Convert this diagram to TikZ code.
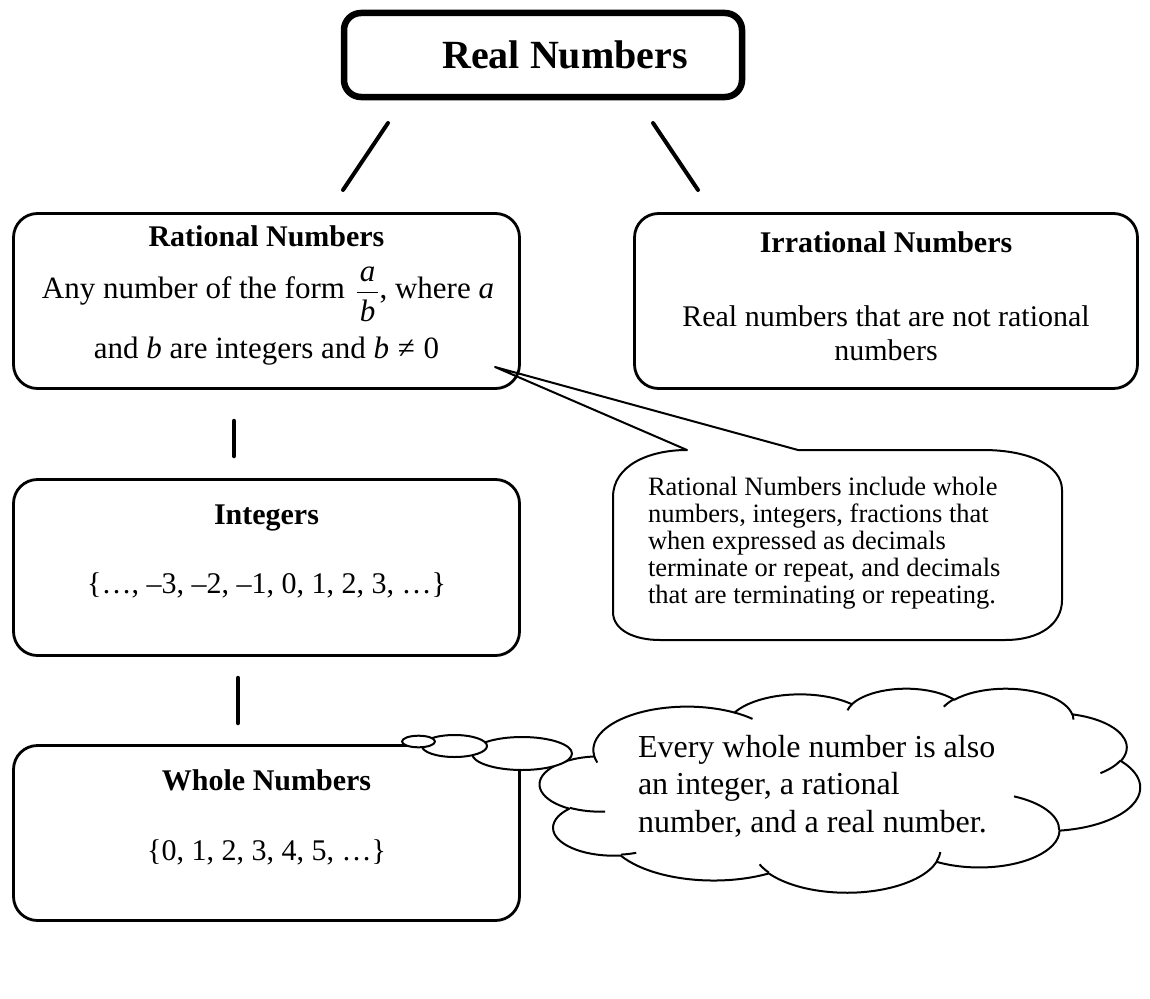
\documentclass[tikz,border=0pt]{standalone}
\usepackage{fontspec}
\setmainfont{Liberation Serif}
\usetikzlibrary{calc}

% Elliptical arc given by radii and "visual" start angle / sweep (degrees),
% converted to the parametric angles that TikZ expects.
\newcommand\cldarc[4]{%
  \pgfextra{%
    \pgfmathparse{atan2((#1)*sin(#3),(#2)*cos(#3))}\xdef\cldS{\pgfmathresult}%
    \pgfmathparse{atan2((#1)*sin((#3)+(#4)),(#2)*cos((#3)+(#4)))}\xdef\cldE{\pgfmathresult}%
    \pgfmathparse{(#4)>0 ? mod((\cldE)-(\cldS)+720,360) : mod((\cldE)-(\cldS)+720,360)-360}\xdef\cldD{\pgfmathresult}%
  }%
  arc[x radius=#1, y radius=#2, start angle=\cldS, delta angle=\cldD]%
}

\begin{document}
\begin{tikzpicture}[x=1pt, y=-1pt,
  every node/.style={inner sep=0pt, outer sep=0pt},
  framebox/.style={draw, line width=2.8pt, rounded corners=24pt},
  link/.style={line width=4pt, line cap=round},
  titlefont/.style={font=\fontsize{30}{34.5}\selectfont\bfseries},
  bodyfont/.style={font=\fontsize{30}{34.5}\selectfont},
  ratfont/.style={font=\fontsize{31}{35}\selectfont},
  notefont/.style={font=\fontsize{26.5}{27}\selectfont},
  cloudfont/.style={font=\fontsize{32}{37.5}\selectfont},
  thin outline/.style={line width=2pt, line join=round}
]
\useasboundingbox (0,0) rectangle (1150,998);

% ---------- top node ----------
\node[draw, line width=6.5pt, rounded corners=17pt,
      minimum width=398pt, minimum height=84pt] (real) at (543,55) {};
\node[anchor=base, font=\fontsize{40}{48}\selectfont\bfseries] (realtxt) at (565,68) {Real Numbers};

% ---------- rational ----------
\node[framebox, minimum width=506pt, minimum height=175pt] (rat) at (266.5,301) {};
\node[anchor=base, titlefont] (rattitle) at (266.5,246) {Rational Numbers};
\node[anchor=base, ratfont] (ratline1) at (268,298)
  {Any number of the form\hspace{3pt} \({\displaystyle\frac{\hspace{3pt}\textit{a}\hspace{3pt}}{\rule{0pt}{28pt}\hspace{3pt}\textit{b}\hspace{3pt}}}\), where \textit{a}};
\node[anchor=base, ratfont] (ratline2) at (266.5,358)
  {and \textit{b} are integers and \textit{b}\hspace{0.28em}≠\hspace{0.28em}0};

% ---------- irrational ----------
\node[framebox, minimum width=503pt, minimum height=175pt] (irr) at (886,301) {};
\node[anchor=base, titlefont] (irrtitle) at (886,252) {Irrational Numbers};
\node[anchor=base, bodyfont] (irrline1) at (886,326) {Real numbers that are not rational};
\node[anchor=base, bodyfont] (irrline2) at (886,360) {numbers};

% ---------- integers ----------
\node[framebox, minimum width=506pt, minimum height=176pt] (int) at (266.5,567.5) {};
\node[anchor=base, titlefont] (inttitle) at (266.5,524) {Integers};
\node[anchor=base, bodyfont] (intset) at (266.5,593) {\{…, –3, –2, –1, 0, 1, 2, 3, …\}};

% ---------- whole numbers ----------
\node[framebox, minimum width=506pt, minimum height=175pt] (whole) at (266.5,833) {};
\node[anchor=base, titlefont] (wholetitle) at (266.5,790) {Whole Numbers};
\node[anchor=base, bodyfont] (wholeset) at (266.5,860) {\{0, 1, 2, 3, 4, 5, …\}};

% ---------- connectors ----------
\coordinate (ra1) at (388,123); \coordinate (ra2) at (343,190);
\coordinate (rb1) at (653,123); \coordinate (rb2) at (698,190);
\coordinate (va1) at (234,421); \coordinate (va2) at (234,456);
\coordinate (vb1) at (238,678); \coordinate (vb2) at (238,723);
\draw[link] (ra1) -- (ra2);
\draw[link] (rb1) -- (rb2);
\draw[link, line width=4.5pt] (va1) -- (va2);
\draw[link, line width=4.5pt] (vb1) -- (vb2);

% ---------- callout with pointer ----------
\coordinate (ctip) at (495,367);
\draw[thin outline] (687,450) -- (ctip) -- (798,450) -- (983,450)
  .. controls (1030,450) and (1062,466) .. (1062,490) -- (1062,600)
  .. controls (1062,624) and (1040,640) .. (1005,640) -- (660,640)
  .. controls (634,640) and (613,630) .. (613,612) -- (613,497)
  .. controls (613,466) and (648,450) .. cycle;
\foreach \txt [count=\i from 0] in {Rational Numbers include whole,
    {numbers, integers, fractions that},
    when expressed as decimals,
    {terminate or repeat, and decimals},
    that are terminating or repeating.}
  \node[anchor=base west, notefont] (note\i) at (648,495+27*\i) {\txt};

% ---------- thought cloud ----------
\begin{scope}[shift={(540,688)}, x=1.3889pt, y=-0.4722pt, thin outline]
  \draw[fill=white] (39.00,143.70)
    \cldarc{67.53}{91.90}{-190.4875}{123.7805}
    \cldarc{53.33}{72.67}{-144.1024}{89.9452}
    \cldarc{43.65}{59.45}{-145.8079}{99.7230}
    \cldarc{48.57}{65.95}{-130.9861}{117.2417}
    \cldarc{53.33}{72.73}{-78.7089}{109.0269}
    \cldarc{67.75}{92.20}{-46.2673}{130.2690}
    \cldarc{57.85}{78.67}{0.6250}{114.0333}
    \cldarc{67.52}{92.15}{22.4516}{115.1726}
    \cldarc{77.20}{105.43}{66.2426}{75.7110}
    \cldarc{43.60}{59.18}{-274.9421}{146.7356}
    \cldarc{43.45}{59.45}{-246.8285}{152.5189}
    -- cycle;
  \draw (46.93,261.77) \cldarc{43.45}{59.45}{86.7420}{26.4295}
        (69.28,348.99) \cldarc{43.60}{59.18}{73.6105}{11.4475}
        (164.78,390.90) \cldarc{67.52}{92.15}{137.6242}{14.0811}
        (288.27,347.51) \cldarc{67.52}{92.15}{6.4533}{15.9984}
        (341.29,229.54) \cldarc{57.85}{78.67}{-70.2924}{70.9174}
        (417.98,153.54) \cldarc{53.33}{72.73}{30.3180}{27.7515}
        (383.24,54.26) \cldarc{48.57}{65.95}{-13.7443}{14.8589}
        (290.78,39.52) \cldarc{48.57}{65.95}{-149.1815}{18.1954}
        (221.41,47.20) \cldarc{43.65}{59.45}{-163.4943}{17.6864}
        (140.00,51.92) \cldarc{67.53}{91.90}{-66.7070}{12.3194}
        (41.27,157.89) \cldarc{67.53}{91.90}{157.6544}{11.8582};
\end{scope}
% trailing bubbles of the cloud
\draw[thin outline, fill=white] (522,753.5) ellipse [x radius=50, y radius=16.5];
\draw[thin outline, fill=white] (454.5,746) ellipse [x radius=32.5, y radius=11];
\draw[thin outline, fill=white] (418.5,741.5) ellipse [x radius=16.5, y radius=5.8];
\node[anchor=base west, cloudfont] (cl1) at (638,757) {Every whole number is also};
\node[anchor=base west, cloudfont] (cl2) at (638,794.5) {an integer, a rational};
\node[anchor=base west, cloudfont] (cl3) at (638,832) {number, and a real number.};
\end{tikzpicture}
\end{document}
